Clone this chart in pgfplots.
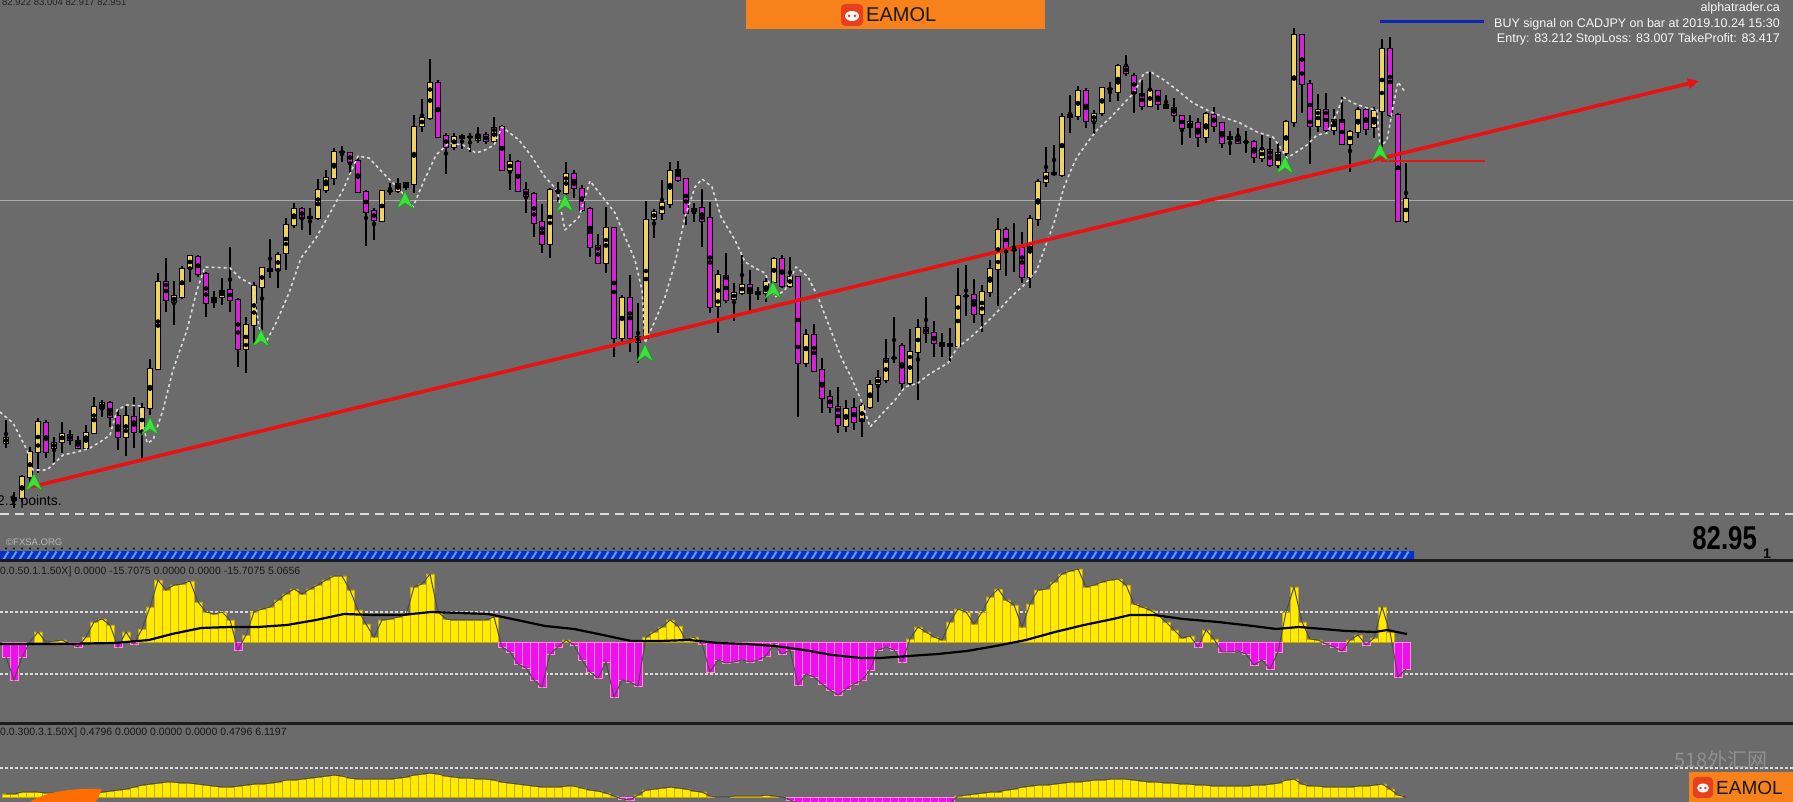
\documentclass[border=0pt]{standalone}
\usepackage{pgfplots}
\pgfplotsset{compat=1.18}
\usepackage{pgfplotstable}
\usepackage{graphicx}
\usepackage{fontspec}
\setmainfont{Liberation Sans}
\newfontfamily\cjk{Noto Sans CJK SC}
\usetikzlibrary{arrows.meta}

\definecolor{bg}{HTML}{6B6B6B}
\definecolor{candY}{HTML}{F2D25E}
\definecolor{candM}{HTML}{D820D8}
\definecolor{histY}{HTML}{FFEA00}
\definecolor{histYd}{HTML}{C9A800}
\definecolor{histM}{HTML}{EE10EE}
\definecolor{histMd}{HTML}{FF8FD0}
\definecolor{trend}{HTML}{E81212}
\definecolor{sep}{HTML}{1C1C1C}
\definecolor{dashc}{HTML}{DADADA}
\definecolor{bandDark}{HTML}{0A2FC8}
\definecolor{bandLight}{HTML}{4FA0FF}
\definecolor{arrG}{HTML}{3BE03B}
\definecolor{arrGd}{HTML}{1E9A1E}
\definecolor{orangeB}{HTML}{F7821B}
\definecolor{logoR}{HTML}{E8401C}
\definecolor{blueL}{HTML}{1028B0}

\pgfdeclareplotmark{buy}{%
  \pgfpathmoveto{\pgfqpoint{0pt}{9pt}}%
  \pgfpathlineto{\pgfqpoint{8.5pt}{-9pt}}%
  \pgfpathlineto{\pgfqpoint{0pt}{-3pt}}%
  \pgfpathlineto{\pgfqpoint{-8.5pt}{-9pt}}%
  \pgfpathclose
  \pgfusepathqfillstroke}
\pgfdeclareplotmark{slash}{%
  \pgfpathmoveto{\pgfqpoint{-2.5pt}{-4pt}}%
  \pgfpathlineto{\pgfqpoint{2.5pt}{4pt}}%
  \pgfusepathqstroke}

\pgfplotsset{panel/.style={scale only axis, width=1793pt, xmin=0, xmax=1793,
  hide axis, anchor=south west}}

% x = bar position, o h l c in screen rows of the price pane (top = 0),
% osc = oscillator pane value, vol = lower pane value
\pgfplotstableread{
x o h l c osc vol
6 443 420 448 438 -15 3
14 500 492 508 498 -38 3
22 498 475 502 477 -15 5
30 477 447 483 452 0 5
38 452 418 473 422 10 5
46 423 420 458 452 0 4
54 448 437 463 443 1 4
62 442 422 453 434 2 4
70 435 430 445 440 -2 4
78 441 436 449 448 -5 4
86 448 425 450 433 5 4
94 433 397 434 407 20 4
102 408 400 417 403 23 5
110 403 401 427 417 17 6
118 416 410 450 437 -5 7
126 437 406 456 416 10 8
134 417 397 448 432 -2 10
142 432 403 460 408 13 12
150 408 359 415 369 35 13
158 369 273 370 282 62 14
166 282 258 312 300 52 15
174 302 281 325 296 57 15
182 297 266 299 269 58 14
190 268 255 282 256 61 14
198 257 255 277 274 40 13
206 274 272 317 303 30 12
214 302 291 308 298 28 11
222 297 278 305 291 30 10
230 290 247 312 300 22 10
238 300 298 367 349 -8 11
246 349 317 373 325 7 12
254 325 282 343 286 30 13
262 287 267 330 268 33 13
270 269 239 278 271 35 14
278 270 252 288 255 42 15
286 253 218 270 225 48 17
294 225 203 228 209 53 17
302 209 207 230 218 48 18
310 218 208 235 217 53 19
318 218 179 220 190 57 20
326 190 170 193 178 62 21
334 178 148 185 152 66 22
342 152 146 162 152 66 21
350 153 152 175 162 52 19
358 161 158 193 192 32 18
366 192 190 246 212 18 18
374 211 208 240 220 5 18
382 221 190 222 191 22 18
390 191 183 195 191 23 18
398 191 178 193 184 25 19
406 187 182 190 183 27 20
414 184 115 193 127 55 22
422 126 99 132 118 58 23
430 118 59 120 83 68 24
438 83 80 138 137 30 23
446 136 133 174 147 23 21
454 147 133 150 137 22 20
462 136 134 149 138 22 19
470 137 133 152 137 22 19
478 140 127 143 135 22 18
486 135 132 144 141 22 18
494 141 117 143 128 25 17
502 127 125 171 170 -5 15
510 170 154 190 162 -10 14
518 162 160 192 191 -22 13
526 190 182 213 196 -26 12
534 194 192 237 223 -38 11
542 222 204 253 244 -45 10
550 244 188 258 190 -12 10
558 191 182 202 191 -5 10
566 193 162 195 174 2 11
574 174 170 198 188 -3 11
582 189 185 212 210 -18 9
590 209 207 257 247 -30 7
598 246 234 263 263 -36 6
606 263 207 273 228 -20 4
614 228 227 357 338 -55 1
622 338 295 343 298 -38 -2
630 298 275 352 338 -40 -3
638 337 303 363 342 -44 2
646 338 201 341 220 5 7
654 219 209 238 212 10 8
662 213 180 220 203 15 9
670 204 162 208 171 22 10
678 170 161 182 180 16 9
686 179 178 225 213 2 8
694 211 203 222 209 5 6
702 208 189 247 221 -2 5
710 218 202 313 307 -30 1
718 306 270 333 275 -18 0
726 276 253 303 300 -21 0
734 299 283 321 293 -20 1
742 293 255 295 285 -18 1
750 285 270 312 293 -20 1
758 292 287 300 294 -18 1
766 293 278 302 282 -14 2
774 282 257 283 259 -2 1
782 259 255 288 286 -12 0
790 286 257 288 277 -8 -3
798 277 277 417 363 -43 -6
806 363 329 367 335 -32 -7
814 335 324 372 371 -35 -8
822 370 358 413 398 -42 -8
830 397 390 413 407 -48 -8
838 407 387 433 425 -53 -8
846 426 400 432 409 -47 -8
854 408 398 430 422 -42 -8
862 421 403 437 406 -38 -8
870 407 380 409 385 -28 -8
878 384 370 402 378 -8 -8
886 380 339 383 359 -5 -8
894 358 317 363 358 -8 -8
902 346 343 390 383 -20 -8
910 383 329 385 352 3 -8
918 352 319 400 328 15 -8
926 328 297 343 333 10 -8
934 333 321 357 343 5 -8
942 343 333 357 346 2 -7
950 346 328 362 344 20 -6
958 346 268 347 296 33 1
966 296 265 316 296 30 2
974 295 279 323 314 18 3
982 314 285 332 292 30 4
990 292 260 297 269 45 5
998 269 218 306 230 53 5
1006 230 227 276 250 42 7
1014 250 223 272 250 37 8
1022 248 232 283 277 15 10
1030 277 215 288 219 38 11
1038 219 179 226 182 52 12
1046 182 147 187 173 53 12
1054 173 145 175 174 60 13
1062 175 113 177 117 68 14
1070 117 95 133 115 71 15
1078 116 86 120 91 73 15
1086 91 88 128 121 55 16
1094 121 110 134 114 57 17
1102 113 87 116 88 60 17
1110 89 82 102 89 62 18
1118 92 64 101 66 63 18
1126 67 55 76 73 57 18
1134 76 73 113 93 38 17
1142 94 80 110 106 35 16
1150 106 72 107 91 32 15
1158 91 90 110 104 27 15
1166 105 95 109 108 20 14
1174 108 98 122 115 12 14
1182 116 115 145 128 4 13
1190 127 115 138 122 6 13
1198 123 118 147 137 -5 12
1206 137 112 143 114 12 12
1214 115 107 132 126 3 11
1222 123 123 148 143 -10 11
1230 139 131 155 137 -10 11
1238 137 128 144 143 -9 11
1246 142 131 153 142 -12 11
1254 142 140 163 157 -23 12
1262 158 135 162 150 -18 12
1270 150 138 167 165 -27 13
1278 165 143 168 153 -10 14
1286 153 120 157 122 30 17
1294 122 28 127 35 55 18
1302 35 34 113 84 20 13
1310 84 80 164 126 3 11
1318 126 94 132 110 2 11
1326 110 93 133 130 -2 10
1334 130 109 135 120 -5 10
1342 120 97 145 144 -9 10
1350 144 130 172 132 2 10
1358 132 107 138 110 7 11
1366 110 107 135 129 -3 11
1374 127 107 138 111 4 12
1382 111 39 147 49 35 13
1390 49 37 117 115 10 8
1398 115 113 222 221 -35 2
1406 221 163 223 199 -27 0
}\bars

\begin{document}
\begin{tikzpicture}[x=1pt,y=1pt]
\useasboundingbox (0,0) rectangle (1793,802);
\fill[bg] (0,0) rectangle (1793,802);

% ---------------- price pane ----------------
\begin{axis}[panel, at={(0pt,288pt)}, height=514pt, ymin=0, ymax=514, y dir=reverse, clip=false]
  % bid line and pane bottom
  \addplot[gray!65!white, line width=0.8pt] coordinates {(0,200) (1793,200)};
  \addplot[dashc, line width=1.6pt, dash pattern=on 9pt off 6pt] coordinates {(0,514) (1793,514)};
  % signal band
  \addplot[fill=bandDark, draw=none] coordinates {(0,551) (1414,551) (1414,560) (0,560) (0,551)};
  \addplot[only marks, mark=slash, mark options={draw=bandLight, line width=2pt}] table[x=x, y expr=555.5]{\bars};
  \addplot[only marks, mark=*, mark size=0.9pt, mark options={fill=green!80!black, draw=none}] table[x=x, y expr=548.5]{\bars};
  % wicks
  \addplot[only marks, mark=none, error bars/.cd, y dir=both, y explicit, error mark=none,
    error bar style={draw=black, line width=1.5pt}]
    table[x=x, y expr=(\thisrow{h}+\thisrow{l})/2, y error expr=(\thisrow{l}-\thisrow{h})/2]{\bars};
  % body outlines
  \addplot[only marks, mark=none, error bars/.cd, y dir=both, y explicit, error mark=none,
    error bar style={draw=black, line width=6.6pt}]
    table[x=x, y expr=(\thisrow{o}+\thisrow{c})/2, y error expr={abs(\thisrow{o}-\thisrow{c})/2+1.1}]{\bars};
  % rising bodies
  \addplot[only marks, mark=none, restrict expr to domain={\thisrow{o}-\thisrow{c}}{0.5:1000},
    error bars/.cd, y dir=both, y explicit, error mark=none,
    error bar style={draw=candY, line width=4.3pt}]
    table[x=x, y expr=(\thisrow{o}+\thisrow{c})/2, y error expr={abs(\thisrow{o}-\thisrow{c})/2}]{\bars};
  % falling bodies
  \addplot[only marks, mark=none, restrict expr to domain={\thisrow{c}-\thisrow{o}}{0.5:1000},
    error bars/.cd, y dir=both, y explicit, error mark=none,
    error bar style={draw=candM, line width=4.3pt}]
    table[x=x, y expr=(\thisrow{o}+\thisrow{c})/2, y error expr={abs(\thisrow{o}-\thisrow{c})/2}]{\bars};
  % trailing stop line
  \addplot[dashc, line width=1.6pt, dash pattern=on 3pt off 3pt, line join=round] coordinates {
   (0,412) (13,423) (27,450) (33,470) (47,470) (63,455) (77,452) (90,448) (100,442) (110,435)
   (117,410) (127,405) (140,406) (147,443) (153,440) (163,410) (173,370) (187,330) (197,290) (205,267)
   (230,268) (240,278) (253,285) (259,327) (266,342) (276,323) (289,293) (301,258) (316,238) (326,220)
   (343,190) (353,167) (358,156) (369,158) (383,173) (393,183) (406,197) (413,207) (423,183) (436,155)
   (449,143) (463,145) (476,153) (485,150) (494,145) (502,127) (519,140) (532,157) (545,177) (557,190)
   (565,230) (579,217) (590,181) (605,200) (615,213) (625,237) (635,260) (642,290) (645,343) (654,323)
   (665,297) (675,263) (685,217) (695,187) (702,179) (712,187) (721,217) (735,240) (745,262) (755,268)
   (765,273) (775,297) (785,290) (796,267) (808,277) (818,297) (828,323) (841,357) (851,377) (861,400)
   (870,427) (881,415) (895,400) (905,387) (918,383) (928,375) (948,363) (957,348) (971,337) (984,325)
   (997,312) (1011,297) (1024,285) (1037,270) (1044,250) (1054,223) (1064,187) (1071,170) (1077,157) (1087,143)
   (1097,130) (1111,117) (1124,103) (1134,93) (1144,73) (1151,72) (1164,80) (1177,90) (1193,103) (1207,110)
   (1223,117) (1240,123) (1257,132) (1273,137) (1280,147) (1287,158) (1295,153) (1307,145) (1317,135) (1327,133)
   (1337,113) (1343,97) (1353,103) (1367,108) (1377,110) (1380,147) (1387,140) (1393,107) (1398,82) (1405,92)};
  % trend line, stop line, take-profit line
  \addplot[trend, line width=3.6pt, -{Triangle[length=11pt,width=10pt]}] coordinates {(31,487) (1699,81)};
  \addplot[trend, line width=2.6pt] coordinates {(1381,161) (1485,161)};
  \addplot[blueL, line width=3pt] coordinates {(1380,22) (1484,22)};
  % buy arrows
  \addplot[only marks, mark=buy, mark options={fill=arrG, draw=arrGd, line width=0.6pt}] coordinates {
   (34,482) (150,426) (261,338) (405,200) (565,203) (645,353) (773,290) (1285,165) (1380,152)};
\end{axis}

% ---------------- oscillator pane ----------------
\begin{axis}[panel, at={(0pt,80pt)}, height=160pt, ymin=-80, ymax=80]
  \addplot[dashc, line width=1.6pt, dash pattern=on 2.5pt off 2.5pt] coordinates {(0,30) (1793,30)};
  \addplot[dashc, line width=1.6pt, dash pattern=on 2.5pt off 2.5pt] coordinates {(0,-32) (1793,-32)};
  \addplot[ybar, bar width=8pt, bar shift=0pt, fill=histY, draw=histYd, line width=0.6pt,
    restrict expr to domain={\thisrow{osc}}{0.001:1000}] table[x=x, y=osc]{\bars};
  \addplot[ybar, bar width=8pt, bar shift=0pt, fill=histM, draw=histMd, line width=0.6pt,
    restrict expr to domain={\thisrow{osc}}{-1000:-0.001}] table[x=x, y=osc]{\bars};
  \addplot[black!70, line width=1pt] table[x=x, y=osc]{\bars};
  \addplot[black, line width=2.2pt] coordinates {
   (0,-2) (57,-2) (115,-1) (149,2) (172,8) (201,14) (230,15) (258,15) (287,17) (316,22)
   (344,28) (373,27) (402,27) (431,30) (459,29) (488,28) (517,22) (545,16) (574,13) (603,7)
   (631,1) (660,1) (689,2) (718,-1) (746,-2) (775,-4) (804,-8) (832,-13) (861,-16) (880,-16)
   (938,-12) (967,-9) (996,-4) (1026,2) (1055,10) (1084,17) (1113,23) (1130,27) (1154,27) (1183,23)
   (1218,20) (1253,16) (1276,13) (1299,15) (1323,13) (1346,11) (1375,10) (1387,12) (1407,8)};
\end{axis}

% ---------------- lower pane ----------------
\begin{axis}[panel, at={(0pt,0pt)}, height=77pt, ymin=-5, ymax=72]
  \addplot[dashc, line width=1.6pt, dash pattern=on 2.5pt off 2.5pt] coordinates {(0,29) (1793,29)};
  \addplot[ybar, bar width=8pt, bar shift=0pt, fill=histY, draw=histYd, line width=0.6pt,
    restrict expr to domain={\thisrow{vol}}{0.001:1000}] table[x=x, y=vol]{\bars};
  \addplot[ybar, bar width=8pt, bar shift=0pt, fill=histM, draw=histMd, line width=0.6pt,
    restrict expr to domain={\thisrow{vol}}{-1000:-0.001}] table[x=x, y=vol]{\bars};
  \addplot[black!70, line width=1pt] table[x=x, y=vol]{\bars};
\end{axis}

% pane separators
\draw[sep, line width=3pt] (0,241) -- (1793,241);
\draw[sep, line width=3pt] (0,78) -- (1793,78);

% texts
\node[anchor=west, inner sep=0, font=\fontsize{9.5}{10}\selectfont, text=black!85] at (2,800) {82.922 83.004 82.917 82.951};
\node[anchor=base east, inner sep=0, font=\fontsize{12.5}{14}\selectfont, text=white!94!gray] at (1780,790) {alphatrader.ca};
\node[anchor=base east, inner sep=0, font=\fontsize{12.5}{14}\selectfont, text=white!94!gray] at (1780,774) {BUY signal on CADJPY on bar at 2019.10.24 15:30};
\node[anchor=base east, inner sep=0, font=\fontsize{12.5}{14}\selectfont, text=white!94!gray] at (1780,759) {Entry: 83.212 StopLoss: 83.007 TakeProfit: 83.417};
\node[anchor=base west, inner sep=0, font=\fontsize{14}{16}\selectfont, text=black] at (-3,296) {2.1 points.};
\node[anchor=west, inner sep=0, font=\fontsize{9.5}{10}\selectfont, text=gray!55!white] at (6,260) {©FXSA.ORG};
\node[anchor=base east, inner sep=0, font=\bfseries\fontsize{33}{36}\selectfont, text=black] at (1757,252) {\scalebox{0.78}[1]{82.95}};
\node[anchor=base west, inner sep=0, font=\bfseries\fontsize{14}{15}\selectfont, text=black] at (1763,243) {1};
\node[anchor=west, inner sep=0, font=\fontsize{10.5}{11}\selectfont, text=black!90] at (0,230) {0.0.50.1.1.50X] 0.0000 -15.7075 0.0000 0.0000 -15.7075 5.0656};
\node[anchor=west, inner sep=0, font=\fontsize{10.5}{11}\selectfont, text=black!90] at (0,69) {0.0.300.3.1.50X] 0.4796 0.0000 0.0000 0.0000 0.4796 6.1197};

% top banner
\fill[orangeB] (746,773) rectangle (1045,802);
\fill[logoR, rounded corners=4pt] (841,776) rectangle (863,798);
\fill[white] (852,786) ellipse (7 and 5);
\fill[logoR] (849,786) circle (1.5); \fill[logoR] (855,786) circle (1.5);
\node[anchor=west, inner sep=0, font=\fontsize{20}{22}\selectfont, text=black!90] at (866,787) {EAMOL};

% bottom-right watermark and logo
\node[anchor=center, inner sep=0, font=\cjk\fontsize{20}{22}\selectfont, text=gray!75!white, opacity=0.7] at (1721,42) {518外汇网};
\fill[orangeB] (1689,0) rectangle (1793,30);
\fill[logoR, rounded corners=4pt] (1693,4) rectangle (1713,25);
\fill[white] (1703,14) ellipse (6 and 4.5);
\fill[logoR] (1700.5,14) circle (1.3); \fill[logoR] (1705.5,14) circle (1.3);
\node[anchor=west, inner sep=0, font=\fontsize{19}{21}\selectfont, text=black!90] at (1716,14) {EAMOL};

% bottom-left swoosh
\fill[orange!85!red] (30,0) .. controls (45,10) and (70,14) .. (102,13) -- (96,0) -- cycle;
\end{tikzpicture}
\end{document}
